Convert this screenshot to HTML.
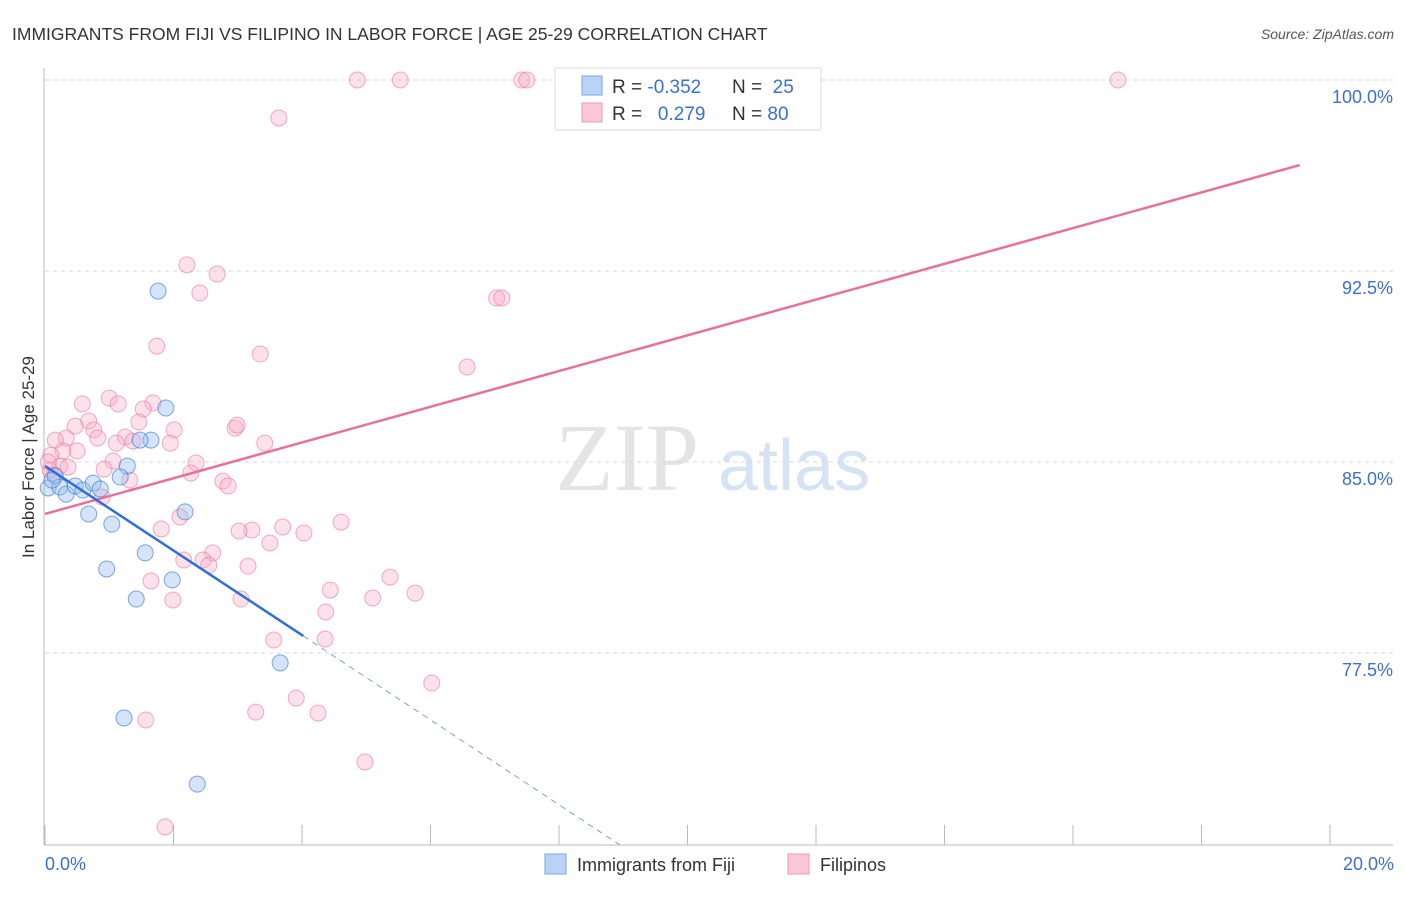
<!DOCTYPE html>
<html><head><meta charset="utf-8">
<style>
body{margin:0;background:#fff;font-family:"Liberation Sans",sans-serif;}
svg text{font-family:"Liberation Sans",sans-serif;}
</style></head>
<body>
<svg width="1406" height="892" viewBox="0 0 1406 892">
<text x="12" y="40" font-size="17.5" fill="#333">IMMIGRANTS FROM FIJI VS FILIPINO IN LABOR FORCE | AGE 25-29 CORRELATION CHART</text>
<text x="1394" y="39" font-size="14" fill="#555" text-anchor="end" font-style="italic">Source: ZipAtlas.com</text>
<g>
<text x="555" y="490" font-size="96" fill="#e4e4e4" font-family="Liberation Serif,serif" style="font-family:'Liberation Serif',serif">ZIP</text>
<text x="718" y="490" font-size="72" fill="#d5e3f5">atlas</text>
</g>
<g id="grid"></g>
<g id="axes"></g>
<g id="marks"></g>
<text x="34" y="457" font-size="17" fill="#333" text-anchor="middle" transform="rotate(-90 34 457)">In Labor Force | Age 25-29</text>
<g>
<rect x="555" y="68" width="266" height="62" fill="#fff" stroke="#ddd"/>
<rect x="582" y="76" width="20" height="19" fill="#b8d3f5" stroke="#7aa6e6"/>
<rect x="582" y="103" width="20" height="19" fill="#fcc8d7" stroke="#ee98b2"/>
<text x="612" y="93" font-size="19" fill="#333">R = <tspan fill="#3b6fd4">-0.352</tspan></text>
<text x="732" y="93" font-size="19" fill="#333">N = <tspan fill="#3b6fd4">&#160;25</tspan></text>
<text x="612" y="120" font-size="19" fill="#333">R = <tspan fill="#3b6fd4">&#160;&#160;0.279</tspan></text>
<text x="732" y="120" font-size="19" fill="#333">N = <tspan fill="#3b6fd4">80</tspan></text>
</g>
<g>
<rect x="545" y="854" width="21" height="20" fill="#b8d3f5" stroke="#7aa6e6"/>
<text x="577" y="871" font-size="18" fill="#333">Immigrants from Fiji</text>
<rect x="788" y="854" width="21" height="20" fill="#fcc8d7" stroke="#ee98b2"/>
<text x="820" y="871" font-size="18" fill="#333">Filipinos</text>
</g>
</svg>
<script>
const fijiX=[1.76,1.88,1.65,1.48,1.28,1.17,0.16,0.05,0.23,0.33,0.47,0.59,0.75,0.86,0.68,1.04,2.18,0.96,1.56,1.98,1.42,3.66,1.23,2.37,0.11];
const fijiY=[91.71,87.12,85.86,85.86,84.84,84.41,84.45,83.98,84.02,83.74,84.06,83.90,84.17,83.94,82.96,82.56,83.04,80.80,81.43,80.37,79.62,77.11,74.95,72.35,84.29];
const filX=[4.86,5.53,7.42,7.50,16.70,3.64,2.21,2.68,2.41,7.03,7.11,1.74,3.35,6.57,1.00,0.58,1.14,1.68,1.53,0.68,1.46,0.47,2.01,2.96,2.99,0.76,0.82,1.25,0.33,0.16,1.11,1.37,1.95,3.42,0.28,0.50,0.09,1.06,0.23,0.36,0.92,2.35,2.27,2.77,2.85,1.32,0.08,0.14,0.89,4.61,2.10,3.22,3.02,3.70,4.03,1.81,3.50,2.61,2.46,2.55,2.16,3.16,1.65,5.37,4.44,5.10,5.76,3.05,1.99,4.37,3.56,4.36,6.02,3.91,3.28,4.25,1.57,4.98,1.87,0.05];
const filY=[100,100,100,100,100,98.51,92.74,92.38,91.64,91.44,91.44,89.55,89.24,88.73,87.51,87.28,87.28,87.32,87.08,86.61,86.57,86.41,86.26,86.33,86.45,86.26,85.94,85.98,85.94,85.86,85.74,85.82,85.74,85.74,85.43,85.43,85.27,85.04,84.84,84.80,84.72,84.96,84.57,84.25,84.06,84.29,84.68,84.49,83.62,82.64,82.84,82.33,82.29,82.45,82.21,82.37,81.82,81.43,81.15,80.95,81.15,80.91,80.33,80.48,79.97,79.66,79.85,79.62,79.58,79.11,78.01,78.05,76.32,75.73,75.18,75.14,74.87,73.22,70.67,85.0];
const filTrend=[[0,82.96],[19.53,96.66]];
const fijiTrendSolid=[[0,84.84],[4.02,78.17]];
const fijiTrendDash=[[4.02,78.17],[8.95,69.96]];
const yTicks=[100,92.5,85,77.5];
const yTickLabels=["100.0%","92.5%","85.0%","77.5%"];
const xTicks=[0,2,4,6,8,10,12,14,16,18,20];

const NS="http://www.w3.org/2000/svg";
const sx=v=>45+v/20*1285;
const sy=v=>80+(100-v)/7.5*191;
function mk(tag,attrs,parent){const e=document.createElementNS(NS,tag);for(const k in attrs)e.setAttribute(k,attrs[k]);parent.appendChild(e);return e;}
const grid=document.getElementById('grid'),axes=document.getElementById('axes'),marks=document.getElementById('marks');
yTicks.forEach((t,i)=>{
  const l=mk('line',{x1:45,x2:1393,y1:sy(t),y2:sy(t),stroke:'#d8d8d8','stroke-dasharray':'4,4'},grid);
  
  
  const tx=mk('text',{x:1393,y:sy(t)+23,'font-size':18,fill:'#3b6fd4','text-anchor':'end'},axes);
  tx.textContent=yTickLabels[i];
  
  
});
const yl=mk('line',{x1:44,x2:44,y1:68,y2:845,stroke:'#bbb'},axes);


const xl=mk('line',{x1:44,x2:1393,y1:845,y2:845,stroke:'#bbb'},axes);


xTicks.forEach(t=>{
  const l=mk('line',{x1:sx(t),x2:sx(t),y1:825,y2:845,stroke:'#bbb'},axes);
  
  
});
const x0=mk('text',{x:45,y:870,'font-size':18,fill:'#3b6fd4'},axes);x0.textContent="0.0%";


const x1=mk('text',{x:1394,y:870,'font-size':18,fill:'#3b6fd4','text-anchor':'end'},axes);x1.textContent="20.0%";



filX.forEach((x,i)=>{
  const c=mk('circle',{cx:sx(x),cy:sy(filY[i]),r:8,fill:'rgba(248,170,195,0.35)',stroke:'rgba(232,120,155,0.6)','stroke-width':1},marks);
  
  
});
fijiX.forEach((x,i)=>{
  const c=mk('circle',{cx:sx(x),cy:sy(fijiY[i]),r:8,fill:'rgba(150,190,240,0.4)',stroke:'rgba(60,120,215,0.65)','stroke-width':1},marks);
  
  
});
function line(p,attrs,name){const l=mk('line',Object.assign({x1:sx(p[0][0]),y1:sy(p[0][1]),x2:sx(p[1][0]),y2:sy(p[1][1])},attrs),marks);
  
  }
line(filTrend,{stroke:'#e8709a','stroke-width':2.5},'filipinos-trendline');
line(fijiTrendSolid,{stroke:'#2f6fd6','stroke-width':2.5},'fiji-trendline');
line(fijiTrendDash,{stroke:'#7aa0e0','stroke-width':1,'stroke-dasharray':'6,5'},'fiji-trendline-extension');
</script>
</body></html>
